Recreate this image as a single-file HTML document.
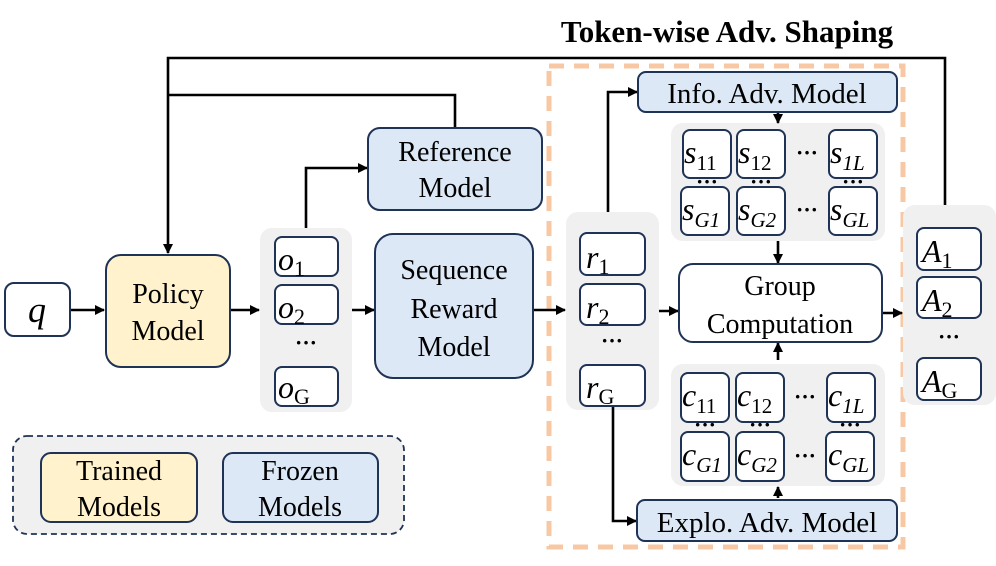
<!DOCTYPE html>
<html><head><meta charset="utf-8"><style>
html,body{margin:0;padding:0;background:#fff;}
svg text, svg tspan{font-family:"Liberation Serif","DejaVu Serif",serif;}
.b{stroke:#1f3356;stroke-width:2;}
.m{font-style:italic;}
</style></head><body>
<svg width="996" height="561" viewBox="0 0 996 561" xmlns="http://www.w3.org/2000/svg" font-family="Liberation Serif, serif">
<defs><marker id="a" markerWidth="10" markerHeight="10" refX="9" refY="5" orient="auto" markerUnits="userSpaceOnUse"><path d="M0,0 L10,5 L0,10 z" fill="#000"/></marker></defs>
<text x="727" y="42" font-size="31" font-weight="bold" text-anchor="middle">Token-wise Adv. Shaping</text>
<rect x="549" y="66" width="354" height="481" fill="none" stroke="#f8c8a4" stroke-width="5" stroke-dasharray="15,10"/>
<rect x="260" y="228" width="92" height="184" rx="12" fill="#f0f0f0"/>
<rect x="566" y="212" width="93" height="198" rx="12" fill="#f0f0f0"/>
<rect x="671" y="123" width="214" height="118" rx="12" fill="#f0f0f0"/>
<rect x="671" y="364" width="214" height="122" rx="12" fill="#f0f0f0"/>
<rect x="903" y="205" width="93" height="200" rx="12" fill="#f0f0f0"/>
<g stroke="#000" stroke-width="2.6" fill="none">
<polyline points="945,205 945,58 168,58 168,253" marker-end="url(#a)"/>
<polyline points="455,128 455,95 168,95"/>
<line x1="70" y1="310" x2="104" y2="310" marker-end="url(#a)"/>
<line x1="230" y1="310" x2="259" y2="310" marker-end="url(#a)"/>
<polyline points="306,228 306,168 367,168" marker-end="url(#a)"/>
<line x1="352" y1="310" x2="374" y2="310" marker-end="url(#a)"/>
<line x1="533" y1="310" x2="565" y2="310" marker-end="url(#a)"/>
<polyline points="608,212 608,92 637,92" marker-end="url(#a)"/>
<polyline points="613,405 613,521 636,521" marker-end="url(#a)"/>
<line x1="659" y1="311" x2="678" y2="311" marker-end="url(#a)"/>
<line x1="882" y1="313" x2="902" y2="313" marker-end="url(#a)"/>
<line x1="778" y1="112" x2="778" y2="123" marker-end="url(#a)"/>
<line x1="778" y1="241" x2="778" y2="263" marker-end="url(#a)"/>
<line x1="778" y1="360" x2="778" y2="343" marker-end="url(#a)"/>
<line x1="778" y1="498" x2="778" y2="487" marker-end="url(#a)"/>
</g>
<rect class="b" x="5" y="283" width="65" height="53" rx="9" fill="#fff"/>
<text x="37" y="322" font-size="36" class="m" text-anchor="middle">q</text>
<rect class="b" x="106" y="255" width="124" height="112" rx="15" fill="#fff2cc"/>
<text x="168" y="303" font-size="28" text-anchor="middle">Policy</text>
<text x="168" y="340" font-size="28" text-anchor="middle">Model</text>
<g class="b" fill="#fff">
<rect x="275" y="237" width="63" height="39" rx="7"/>
<rect x="275" y="285" width="63" height="39" rx="7"/>
<rect x="275" y="367" width="63" height="39" rx="7"/>
<rect x="580" y="233" width="65" height="42" rx="7"/>
<rect x="580" y="284" width="65" height="41" rx="7"/>
<rect x="580" y="365" width="65" height="41" rx="7"/>
<rect x="917" y="228" width="64" height="42" rx="7"/>
<rect x="917" y="277" width="64" height="41" rx="7"/>
<rect x="917" y="358" width="64" height="42" rx="7"/>
<rect x="679" y="264" width="203" height="78" rx="14"/>
<rect x="683" y="130" width="48" height="48" rx="7"/><rect x="737" y="130" width="48" height="48" rx="7"/><rect x="829" y="130" width="48" height="48" rx="7"/>
<rect x="681" y="187" width="48" height="48" rx="7"/><rect x="737" y="187" width="48" height="48" rx="7"/><rect x="829" y="187" width="48" height="48" rx="7"/>
<rect x="681" y="373" width="48" height="49" rx="7"/><rect x="736" y="373" width="48" height="49" rx="7"/><rect x="827" y="373" width="48" height="49" rx="7"/>
<rect x="681" y="432" width="48" height="49" rx="7"/><rect x="736" y="432" width="48" height="49" rx="7"/><rect x="826" y="432" width="48" height="49" rx="7"/>
</g>
<g class="b" fill="#dde8f6">
<rect x="368" y="128" width="174" height="82" rx="12"/>
<rect x="375" y="234" width="158" height="144" rx="18"/>
<rect x="638" y="72" width="259" height="40" rx="8"/>
<rect x="637" y="500" width="260" height="41" rx="8"/>
</g>
<g font-size="28" text-anchor="middle">
<text x="455" y="161">Reference</text><text x="455" y="197">Model</text>
<text x="454" y="279">Sequence</text><text x="454" y="318">Reward</text><text x="454" y="356">Model</text>
<text x="780" y="295">Group</text><text x="780" y="333">Computation</text>
<text x="767" y="103" font-size="29">Info. Adv. Model</text>
<text x="767" y="532" font-size="29">Explo. Adv. Model</text>
</g>
<g font-size="32" class="m">
<text x="278" y="270">o<tspan font-size="22" font-style="normal" dy="6">1</tspan></text>
<text x="278" y="318">o<tspan font-size="22" font-style="normal" dy="6">2</tspan></text>
<text x="278" y="398">o<tspan font-size="22" font-style="normal" dy="6">G</tspan></text>
<text x="586" y="268">r<tspan font-size="22" font-style="normal" dy="6">1</tspan></text>
<text x="586" y="318">r<tspan font-size="22" font-style="normal" dy="6">2</tspan></text>
<text x="586" y="398">r<tspan font-size="22" font-style="normal" dy="6">G</tspan></text>
<text x="922" y="262">A<tspan font-size="22" font-style="normal" dy="6">1</tspan></text>
<text x="922" y="311">A<tspan font-size="22" font-style="normal" dy="6">2</tspan></text>
<text x="922" y="392">A<tspan font-size="22" font-style="normal" dy="6">G</tspan></text>
<text x="684" y="163">s<tspan font-size="21" font-style="normal" dy="7">11</tspan></text>
<text x="738" y="163">s<tspan font-size="21" font-style="normal" dy="7">12</tspan></text>
<text x="830" y="163">s<tspan font-size="21" dy="7">1L</tspan></text>
<text x="682" y="220">s<tspan font-size="21" dy="7">G1</tspan></text>
<text x="738" y="220">s<tspan font-size="21" dy="7">G2</tspan></text>
<text x="830" y="220">s<tspan font-size="21" dy="7">GL</tspan></text>
<text x="682" y="406">c<tspan font-size="21" font-style="normal" dy="7">11</tspan></text>
<text x="737" y="406">c<tspan font-size="21" font-style="normal" dy="7">12</tspan></text>
<text x="828" y="406">c<tspan font-size="21" dy="7">1L</tspan></text>
<text x="682" y="465">c<tspan font-size="21" dy="7">G1</tspan></text>
<text x="737" y="465">c<tspan font-size="21" dy="7">G2</tspan></text>
<text x="828" y="465">c<tspan font-size="21" dy="7">GL</tspan></text>
</g>
<g font-size="22" text-anchor="middle" font-weight="bold">
<text x="306" y="350">···</text><text x="612" y="348">···</text><text x="949" y="344">···</text>
<text x="807" y="160">···</text><text x="807" y="217">···</text>
<text x="805" y="404">···</text><text x="805" y="463">···</text>
<text x="707" y="189">···</text><text x="761" y="189">···</text><text x="853" y="189">···</text>
<text x="705" y="432">···</text><text x="760" y="432">···</text><text x="850" y="432">···</text>
</g>
<rect x="13" y="436" width="391" height="98" rx="14" fill="#f0f0f0" stroke="#1f3356" stroke-width="1.8" stroke-dasharray="6,4"/>
<rect class="b" x="41" y="453" width="156" height="69" rx="10" fill="#fff2cc"/>
<rect class="b" x="223" y="453" width="155" height="69" rx="10" fill="#dde8f6"/>
<g font-size="28" text-anchor="middle">
<text x="119" y="480">Trained</text><text x="119" y="516">Models</text>
<text x="300" y="480">Frozen</text><text x="300" y="516">Models</text>
</g>
</svg>
</body></html>
